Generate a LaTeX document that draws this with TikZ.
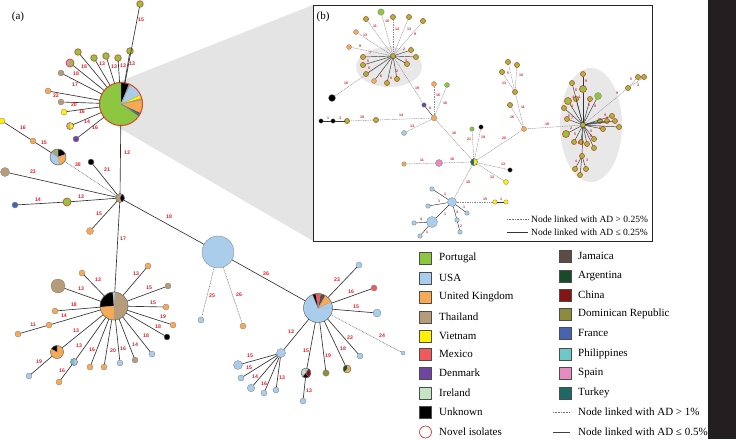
\documentclass[tikz,border=0pt]{standalone}
\usepackage{fontspec}
\setmainfont{Liberation Serif}
\newfontfamily\lblfont{Liberation Sans}
\definecolor{cPor}{RGB}{141,198,63}
\definecolor{cUSA}{RGB}{170,205,235}
\definecolor{cUK}{RGB}{247,170,85}
\definecolor{cTha}{RGB}{183,156,122}
\definecolor{cVie}{RGB}{255,242,0}
\definecolor{cMex}{RGB}{240,90,90}
\definecolor{cDen}{RGB}{110,70,160}
\definecolor{cIre}{RGB}{196,228,196}
\definecolor{cJam}{RGB}{95,75,70}
\definecolor{cArg}{RGB}{25,75,40}
\definecolor{cChi}{RGB}{135,20,20}
\definecolor{cDom}{RGB}{140,140,60}
\definecolor{cFra}{RGB}{70,100,175}
\definecolor{cPhi}{RGB}{110,200,200}
\definecolor{cSpa}{RGB}{230,140,190}
\definecolor{cTur}{RGB}{30,105,100}
\definecolor{cNov}{RGB}{215,75,45}
\definecolor{cRing}{RGB}{220,50,50}
\definecolor{cLbl}{RGB}{230,30,40}
\definecolor{cWedge}{RGB}{228,228,228}
\definecolor{cBar}{RGB}{35,31,32}
\newcommand\pieslices[3]{\foreach \aa/\bb/\cl in {#3}{\filldraw[fill=\cl, draw=black!40, line width=0.15pt] (#1) -- ++(\aa:#2) arc[start angle=\aa, end angle=\bb, radius=#2] -- cycle;}}
\begin{document}
\begin{tikzpicture}[x=1pt,y=-1pt,
 xnd/.style={circle, inner sep=0pt, outer sep=0pt, draw=black!50, line width=0.3pt},
 xnv/.style={xnd, fill=cPor, draw=cNov, line width=0.7pt},
 xpo/.style={circle, inner sep=0pt, outer sep=0pt, draw=black!60, line width=0.4pt},
 xed/.style={draw=black!80, line width=0.65pt},
 xdd/.style={draw=black!55, line width=0.6pt, dash pattern=on 0.8pt off 0.8pt},
 xie/.style={draw=black!80, line width=0.45pt},
 xid/.style={draw=black!45, line width=0.45pt, dash pattern=on 1pt off 0.7pt},
 xlb/.style={text=cLbl, font=\lblfont\bfseries\fontsize{5.2}{6}\selectfont, inner sep=0pt},
 xil/.style={text=cLbl, font=\lblfont\bfseries\fontsize{3.6}{4}\selectfont, inner sep=0pt},
 xsq/.style={draw=black!70, line width=0.4pt, minimum size=12pt, inner sep=0pt},
 xlt/.style={anchor=west, inner sep=0pt, font=\fontsize{11}{13}\selectfont},
 xst/.style={anchor=west, inner sep=0pt, font=\fontsize{9.5}{11}\selectfont}]
\useasboundingbox (0,0) rectangle (736,439);
\fill[cBar] (708,0) rectangle (736,439);
% zoom wedge and inset box
\fill[cWedge] (313,5) -- (313,241) -- (110,122.6) -- (121,104) -- (113,84) -- cycle;
\filldraw[fill=white, draw=black!85, line width=0.8pt] (313,5) rectangle (652,241);
\fill[black!9] (389,67) ellipse[x radius=33pt, y radius=20pt];
\fill[black!9] (591,125) ellipse[x radius=31pt, y radius=57pt];
\node[font=\fontsize{11}{13}\selectfont, inner sep=0pt] (la) at (18,17) {(a)};
\node[font=\fontsize{11}{13}\selectfont, inner sep=0pt] (lbb) at (323,17) {(b)};
% ---------- pies (a)
\pieslices{121,104}{21.5pt}{0/360/cPor,68/90/black,64/68/black!40,25/64/cUSA,15/25/cVie,10/15/cTha,-25/10/cUK,-30/-25/cJam,-34/-30/cTur}
\node[xpo, draw=cNov, line width=1pt, minimum size=43pt] (P) at (121,104) {};
\pieslices{120,198}{4.5pt}{0/360/cTha,-65/60/black}
\node[xpo, minimum size=9pt] (H) at (120,198) {};
\pieslices{58,157}{8pt}{0/360/cUSA,20/90/black,-80/20/cUK,90/115/cPor,115/135/cTha,135/150/black!30}
\node[xpo, minimum size=16pt] (PL) at (58,157) {};
\pieslices{70,63}{4pt}{90/270/cSpa,-90/90/cPor}
\node[xpo, draw=cNov, line width=0.7pt, minimum size=8pt] (n6) at (70,63) {};
\pieslices{70,126}{3.5pt}{90/270/cUK,-90/90/cVie}
\node[xpo, minimum size=7pt] (n11) at (70,126) {};
\pieslices{114,306}{14pt}{0/360/cTha,95/185/black,185/270/cUK,85/95/cUSA}
\node[xpo, minimum size=28pt] (Q) at (114,306) {};
\pieslices{57,352}{6.5pt}{0/360/cUK,90/150/black}
\node[xpo, minimum size=13pt] (q6) at (57,352) {};
\pieslices{74,362}{3.5pt}{90/270/cPhi,-90/90/cUSA}
\node[xpo, minimum size=7pt] (q8) at (74,362) {};
\pieslices{318,308}{14.5pt}{0/360/cUSA,25/60/cUK,60/80/cJam,80/100/cMex,100/112/black}
\node[xpo, minimum size=29pt] (R) at (318,308) {};
\pieslices{347,369}{4pt}{0/360/cUK,90/230/cArg}
\node[xpo, minimum size=8pt] (r6) at (347,369) {};
\pieslices{306,373}{5pt}{0/360/cUSA,100/200/cIre,230/300/black,-60/60/cChi}
\node[xpo, minimum size=10pt] (r8) at (306,373) {};
\pieslices{474,162}{3.5pt}{90/270/cTur,-90/90/cVie}
\node[xpo, minimum size=7pt] (iC) at (474,162) {};
% ---------- novel nodes
\foreach \n/\x/\y/\dm in {t0/140/4/6.5, n1/78/52/6.5, n2/94/58/6.5, n3/106/56/6.5, n4/118/58/6.5, n5/130/51/6.5, g1/67/202/8,
  ihA/393/56/5, iA2/366/19/5, iA3/393/17/5, iA4/409/17/5, iA5/423/21/5, iA8/411/50/5, iA9/416/57/5, iA10/407/64/5,
  iA11/397/79/5, iA12/387/83/5, iA14/366/74/5, iA15/363/65/5, iA16/363/57/5, im1/347/121/5, im2/376/120/5,
  ih4/515/92/5, ih4a/508/62/5, ih4b/517/65/5, ih4c/502/72/5, ih3b/510/105/5,
  iHB/583/125/5, iB1/583/74/5, iB2/583/89/7, iB3/572/83/5, iB4/576/99/5, iB5/568/101/7, iB6/564/108/5, iB7/590/99/5,
  iB9/567/119/5, iB10/566/134/7, iB11/574/142/5, iB12/581/142/5, iB13/587/144/5, iB14/594/139/5, iB15/594/148/5,
  iB16/600/121/5, iB17/607/121/5, iB18/612/116/5, iB19/615/121/5, iB20/619/127/5, iB21/603/129/5, iB22/582/156/5,
  iB23/575/169/5, iB24/580/175/5, iB25/586/169/5, iR1/628/88/5, iR2/638/77/5, iR3/644/77/5}
  {\node[xnv, minimum size=\dm pt] (\n) at (\x,\y) {};}
% ---------- plain nodes
\foreach \n/\x/\y/\dm/\cl in {n7/61/73/6/cTha, n8/48/91/6/cUK, n9/61/102/6/cTha, n10/64/112/6/cVie, n12/76/139/6/cDen,
  y1/2/121/6/cVie, o1/33/141/6/cUK, k1/91/162/6/black, b1/5/172/9/cTha, f1/15/205/6/cFra, o2/90/231/7/cUK,
  q1/82/273/6/cUK, q2/58/286/14/cTha, q3/55/311/6/cUK, q4/49/325/6/cUK, q5/18/334/6/cUK, q7/29/376/6/cUSA,
  q9/59/382/6/cUK, q10/90/367/6/cUK, q11/104/367/6/cUK, q12/120/363/6/cUSA, q13/135/360/6/cTha, q14/152/354/6/cUSA,
  q15/167/337/6/black, q16/173/325/6/cUK, q17/166/307/6/cUK, q18/168/286/6/cTha, q19/148/266/6/cUK,
  B/218/252/32/cUSA, b2/201/320/6/cUSA, b3/243/326/6/cUK,
  r1/359/265/6/cUSA, r2/374/288/6/cMex, r3/377/313/8/cUSA, r4/403/353/4/cUSA, r5/360/356/6/cUSA, r7/326/373/6.5/cDom,
  r9/303/401/6/cUSA, r10/281/353/9/cUSA, r11/238/365/9/cUSA, r12/241/378/6/cUSA, r13/251/388/7.5/cUSA, r14/264/393/6/cUSA, r15/276/390/6/cUSA,
  iA1/381/12/6.5/cPor, iA6/356/32/5/cUK, iA7/349/47/5/cUK, iA13/374/81/5/cUK, iA17/332/98/7/black,
  iD/424/105/4.5/cDen, ih2/434/118/5.5/cUK, io3/434/84/5/cUK, ig2/447/85/5/cPor,
  ik2/321/121/4.5/black, ik3/333/121/4.5/black, ibl/404/133/5/cUSA,
  ig3/472/129/4.5/cPor, ik4/481/127/4.5/black, isp/439/163/7/cSpa, io4/404/164/4.5/cUK, ik5/510/170/4.5/black, iy2/506/182/5/cVie,
  iU/452/202/9/cUSA, iu1/432/189/4.5/cUSA, iu2/428/206/4.5/cUSA, iU2/432/222/11/cUSA, iu3/457/220/4.5/cUSA, iu4/460/232/4.5/cUSA,
  iu5/467/213/4.5/cUSA, iy3/495/202/4.5/cVie, iy4/506/202/4.5/cVie, iu6/414/223/4.5/cUSA, iu7/420/236/4.5/cUSA,
  ih3/524/129/5/cUK, iB8/598/96/7/cPor}
  {\node[xnd, fill=\cl, minimum size=\dm pt] (\n) at (\x,\y) {};}
% ---------- connectors (a)
\foreach \a/\b in {P/t0, P/n1, P/n2, P/n3, P/n4, P/n5, P/n6, P/n7, P/n8, P/n9, P/n10, P/n11, P/n12, P/H,
  y1/o1, o1/PL, k1/H, b1/H, f1/g1, g1/H, o2/H, H/Q, H/B,
  Q/q1, Q/q2, Q/q3, Q/q4, q4/q5, Q/q6, q6/q7, Q/q8, q8/q9, Q/q10, Q/q11, Q/q12, Q/q13, Q/q14, Q/q15, Q/q16, Q/q17, Q/q18, Q/q19,
  B/R, R/r1, R/r2, R/r3, R/r5, R/r6, R/r7, R/r8, r8/r9, R/r10, r10/r11, r10/r12, r10/r13, r10/r14, r10/r15}
  {\draw[xed] (\a) -- (\b);}
\foreach \a/\b in {PL/H, B/b2, B/b3, R/r4} {\draw[xdd] (\a) -- (\b);}
% ---------- connectors (b)
\foreach \a/\b in {ihA/iA8, ihA/iA9, ihA/iA10, ihA/iA11, ihA/iA12, ihA/iA13, ihA/iA14, ihA/iA15, ihA/iA16, iD/ih2, ik2/ik3, ik3/im1,
  iU/iu1, iU/iu2, iU/iU2, iU/iu3, iU/iu5, iu3/iu4, iy3/iy4, iU2/iu6, iU2/iu7,
  iB1/iB2, iHB/iB2, iHB/iB3, iHB/iB4, iHB/iB5, iHB/iB6, iHB/iB7, iHB/iB8, iHB/iB9, iHB/iB10, iHB/iB11, iHB/iB12, iHB/iB13,
  iHB/iB14, iHB/iB15, iHB/iB16, iHB/iB17, iHB/iB18, iHB/iB19, iHB/iB20, iHB/iB21, iHB/iB22, iB22/iB23, iB22/iB24, iB22/iB25}
  {\draw[xie] (\a) -- (\b);}
\foreach \a/\b in {ihA/iA1, ihA/iA2, ihA/iA3, ihA/iA4, ihA/iA5, ihA/iA6, ihA/iA7, ihA/iA17, ihA/iD, ih2/io3, ih2/ig2, im1/im2, im2/ih2,
  ih2/ibl, ih2/iC, iC/ig3, iC/ik4, iC/isp, isp/io4, iC/ik5, iC/iy2, iC/ih3, iC/iU, iU/iy3,
  ih3/ih4, ih3/ih3b, ih3/iHB, ih4/ih4a, ih4/ih4b, ih4/ih4c, iHB/iR1, iR1/iR2, iR1/iR3}
  {\draw[xid] (\a) -- (\b);}
% ---------- labels (a)
\foreach \x/\y/\t in {141/20/15, 84/67/18, 102/64/13, 114/67/13, 123/66/13, 132/64/13, 76/74/18, 75/85/17, 56/96/22, 74/105/20,
  82/112/16, 87/122/14, 95/128/16, 127/153/13, 23/128/16, 44/143/15, 78/165/38, 107/170/21, 33/172/23, 38/200/14, 81/197/13,
  99/214/15, 123/239/17, 169/217/18, 98/280/13, 81/289/13, 74/305/18, 64/316/14, 33/325/11, 76/331/13, 39/362/19, 79/346/13,
  62/371/16, 92/350/16, 113/351/20, 123/349/16, 135/345/14, 146/336/18, 158/327/18, 163/317/19, 153/303/15, 149/288/15, 136/274/13,
  212/296/25, 239/295/26, 266/274/26, 337/280/23, 351/292/16, 356/307/15, 382/336/24, 350/338/22, 343/349/18, 328/356/19,
  306/351/15, 309/391/13, 291/332/13, 250/356/15, 249/368/15, 255/377/14, 264/384/16, 282/378/13}
  {\node[xlb] at (\x,\y) {\t};}
% ---------- labels (b)
\foreach \x/\y/\t in {375/26/11, 387/21/16, 397/29/14, 409/29/13, 415/34/9, 365/35/13, 360/46/9, 404/49/2, 406/60/1, 397/71/2,
  391/78/6, 381/76/6, 369/68/5, 368/61/5, 370/53/7, 346/83/16, 417/88/19, 430/108/8, 438/95/16, 445/103/16,
  328/118/1, 340/118/3, 362/117/19, 401/115/14, 412/126/14, 454/133/16, 469/139/21, 483/137/19, 452/159/16, 422/160/11,
  503/164/13, 492/177/12, 504/138/20, 468/182/10, 445/194/1, 439/201/1, 445/214/1, 457/212/4, 461/226/2, 464/207/1,
  485/199/15, 501/199/1, 421/219/4, 427/232/1, 523/107/11, 512/117/16, 547/124/18, 508/73/5, 521/75/10, 504/83/13,
  586/81/9, 576/90/5, 573/97/4, 579/97/4, 589/105/1, 595/106/8, 572/106/4, 569/116/5, 572/118/7, 571/128/2, 575/134/5,
  579/143/6, 591/131/5, 591/136/6, 605/115/9, 607/118/3, 600/128/6, 576/161/4, 587/160/3, 617/93/9, 631/79/5, 638/85/3}
  {\node[xil] at (\x,\y) {\t};}
% ---------- inset legend
\draw[black!55, line width=0.5pt, dash pattern=on 0.8pt off 0.8pt] (507,219) -- (528,219);
\draw[black!80, line width=0.6pt] (507,232) -- (528,232);
\node[xst] (s1) at (531,219) {Node linked with AD > 0.25\%};
\node[xst] (s2) at (531,232) {Node linked with AD ≤ 0.25\%};
% ---------- main legend
\foreach \y/\cl/\t [count=\i] in {258/cPor/Portugal, 278/cUSA/USA, 297/cUK/United Kingdom, 317/cTha/Thailand, 336/cVie/Vietnam,
  354/cMex/Mexico, 373/cDen/Denmark, 393/cIre/Ireland, 412/black/Unknown}
  {\node[xsq, fill=\cl] (ls\i) at (425.5,\y) {}; \node[xlt] (lt\i) at (439,\y) {\t};}
\node[circle, draw=cRing, line width=0.7pt, minimum size=12pt, inner sep=0pt] (lnov) at (425.5,432) {};
\node[xlt] (ltnov) at (439,432) {Novel isolates};
\foreach \y/\cl/\t [count=\i] in {256/cJam/Jamaica, 276/cArg/Argentina, 295/cChi/China, 314/cDom/Dominican Republic, 333/cFra/France,
  354/cPhi/Philippines, 373/cSpa/Spain, 393/cTur/Turkey}
  {\node[xsq, fill=\cl] (lr\i) at (565.5,\y) {}; \node[xlt] (lrt\i) at (578,\y) {\t};}
\draw[black!55, line width=0.5pt, dash pattern=on 0.8pt off 0.8pt] (553,412) -- (570,412);
\draw[black!75, line width=0.6pt] (553,432) -- (570,432);
\node[xlt] (ld1) at (578,412) {Node linked with AD > 1\%};
\node[xlt] (ld2) at (578,432) {Node linked with AD ≤ 0.5\%};
\end{tikzpicture}
\end{document}
